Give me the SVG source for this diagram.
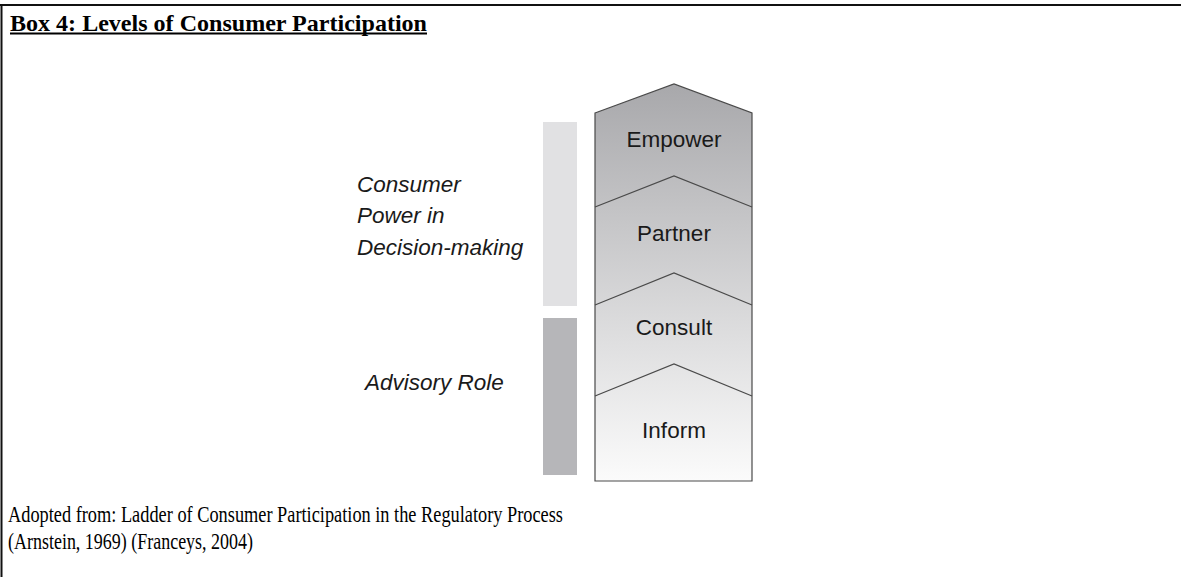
<svg xmlns="http://www.w3.org/2000/svg" width="1181" height="577" viewBox="0 0 1181 577">
  <defs>
    <linearGradient id="ladderFill" x1="0" y1="84" x2="0" y2="481" gradientUnits="userSpaceOnUse">
      <stop offset="0" stop-color="#a8a8ab"/>
      <stop offset="0.35" stop-color="#c6c6c8"/>
      <stop offset="0.65" stop-color="#dfdfe0"/>
      <stop offset="1" stop-color="#fbfbfb"/>
    </linearGradient>
    <style>
      .serif { font-family: "Liberation Serif", "Times New Roman", serif; fill: #000; }
      .sans { font-family: "Liberation Sans", Arial, sans-serif; fill: #1a1a1a; }
      .rung { font-size: 22.5px; text-anchor: middle; }
      .side { font-size: 22.5px; font-style: italic; }
      .edge { fill: none; stroke: #4a4a4a; stroke-width: 1.2; }
    </style>
  </defs>

  <rect width="1181" height="577" fill="#fff"/>

  <!-- box frame: top and left rules -->
  <line x1="0" y1="5" x2="1181" y2="5" stroke="#111" stroke-width="2"/>
  <line x1="1.5" y1="4" x2="1.5" y2="577" stroke="#111" stroke-width="2"/>

  <g id="title">
    <text class="serif" x="10" y="30.5" font-size="24" font-weight="bold" textLength="417" lengthAdjust="spacingAndGlyphs">Box 4: Levels of Consumer Participation</text>
    <line x1="10" y1="33.5" x2="427" y2="33.5" stroke="#000" stroke-width="2"/>
  </g>

  <!-- side bars -->
  <g id="bar-power">
    <rect x="543" y="122" width="34" height="184" fill="#e1e1e3"/>
  </g>
  <g id="bar-advisory">
    <rect x="543" y="318" width="34" height="157" fill="#b6b6b9"/>
  </g>

  <g id="label-power">
    <text class="sans side" x="357" y="192">Consumer</text>
    <text class="sans side" x="357" y="223">Power in</text>
    <text class="sans side" x="357" y="255">Decision-making</text>
  </g>
  <g id="label-advisory">
    <text class="sans side" x="365" y="390">Advisory Role</text>
  </g>

  <!-- ladder outline -->
  <g id="ladder">
    <path d="M595,113 L674,84 L752,113 L752,481 L595,481 Z" fill="url(#ladderFill)" stroke="#4a4a4a" stroke-width="1.2"/>
  </g>

  <g id="connectors">
    <polyline class="edge" points="595,207 674,176 752,207"/>
    <polyline class="edge" points="595,305 674,273 752,305"/>
    <polyline class="edge" points="595,396 674,364 752,396"/>
  </g>

  <g id="empower"><text class="sans rung" x="674" y="147">Empower</text></g>
  <g id="partner"><text class="sans rung" x="674" y="241">Partner</text></g>
  <g id="consult"><text class="sans rung" x="674" y="335">Consult</text></g>
  <g id="inform"><text class="sans rung" x="674" y="438">Inform</text></g>

  <g id="source">
    <text class="serif" x="8" y="521.5" font-size="22.5" textLength="555" lengthAdjust="spacingAndGlyphs">Adopted from: Ladder of Consumer Participation in the Regulatory Process</text>
    <text class="serif" x="8" y="549" font-size="22.5" textLength="245" lengthAdjust="spacingAndGlyphs">(Arnstein, 1969) (Franceys, 2004)</text>
  </g>
</svg>
